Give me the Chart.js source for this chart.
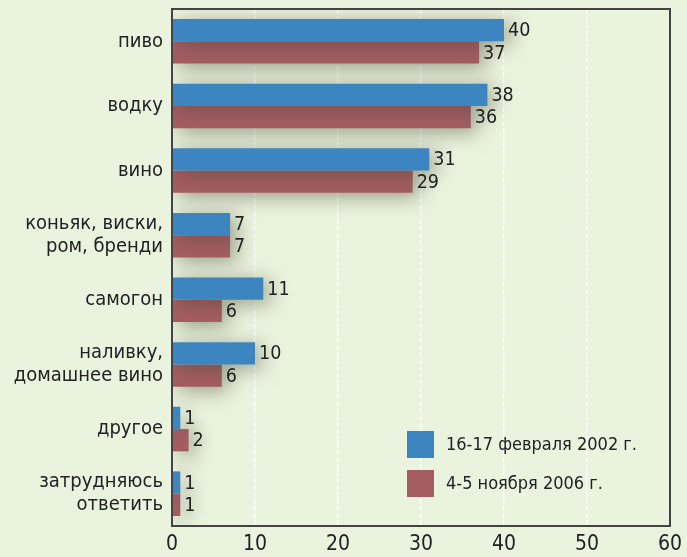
<!DOCTYPE html>
<html><head><meta charset="utf-8">
<script src="https://cdn.jsdelivr.net/npm/chart.js@4/dist/chart.umd.min.js"></script>
<style>html,body{margin:0;padding:0;background:#eaf3de;}#wrap{width:687px;height:557px;}</style>
</head><body><div id="wrap"><canvas id="c" width="687" height="557"></canvas></div>
<script>
const categories = [["пиво"],["водку"],["вино"],["коньяк, виски,","ром, бренди"],["самогон"],["наливку,","домашнее вино"],["другое"],["затрудняюсь","ответить"]];
const series2002 = [40,38,31,7,11,10,1,1];
const series2006 = [37,36,29,7,6,6,2,1];
const seriesNames = ["16-17 февраля 2002 г.","4-5 ноября 2006 г."];
const xTicks = [0,10,20,30,40,50,60];

const FONT = "'DejaVu Sans Condensed','Liberation Sans Narrow','Liberation Sans',sans-serif";
const BLUE = "#3d85c0", RED = "#a55d63", TXT = "#222222";

const shadowPlugin = {
  id:'shadow',
  beforeDatasetsDraw(chart){const c=chart.ctx;c.save();c.shadowColor='rgba(70,70,50,0.5)';c.shadowBlur=20;c.shadowOffsetX=6;c.shadowOffsetY=4;},
  afterDatasetsDraw(chart){
    const c=chart.ctx;c.restore();
    c.save();
    c.font = "19.5px "+FONT; c.fillStyle=TXT; c.textBaseline='middle'; c.textAlign='left';
    chart.data.datasets.forEach((ds,i)=>{
      const meta=chart.getDatasetMeta(i);
      meta.data.forEach((bar,j)=>{ c.fillText(String(ds.data[j]), bar.x+4, bar.y+1); });
    });
    c.restore();
  }
};
const framePlugin = {
  id:'frame',
  afterDraw(chart){
    const a=chart.chartArea,c=chart.ctx;
    c.save();c.strokeStyle='#444';c.lineWidth=2;
    c.strokeRect(a.left,a.top,a.right-a.left,a.bottom-a.top);
    const items=[[BLUE,seriesNames[0],431],[RED,seriesNames[1],470]];
    c.font="18px "+FONT;c.textBaseline='middle';c.textAlign='left';
    items.forEach(([col,txt,y])=>{c.fillStyle=col;c.fillRect(407,y,27,27);c.fillStyle=TXT;c.fillText(txt,446,y+14);});
    c.restore();
  }
};

new Chart(document.getElementById('c'),{
  type:'bar',
  data:{labels:categories,datasets:[
    {label:seriesNames[0],data:series2002,backgroundColor:BLUE,barPercentage:1,categoryPercentage:0.69},
    {label:seriesNames[1],data:series2006,backgroundColor:RED,barPercentage:1,categoryPercentage:0.69}
  ]},
  options:{
    indexAxis:'y',responsive:false,animation:false,
    layout:{padding:{top:9,right:17,left:0,bottom:0}},
    plugins:{legend:{display:false},tooltip:{enabled:false}},
    scales:{
      x:{min:0,max:60,
        afterBuildTicks(s){s.ticks=xTicks.map(v=>({value:v}));},
        afterFit(s){s.height=31;s.paddingLeft=0;s.paddingRight=0;},
        border:{display:true,color:'#444',width:2,dash:[5,2]},
        grid:{drawTicks:false,color:ctx=>(ctx.tick&&ctx.tick.value>0&&ctx.tick.value<60)?'#ffffff':'rgba(0,0,0,0)',lineWidth:1.3},
        ticks:{color:TXT,font:{family:FONT,size:21},padding:6,maxRotation:0,autoSkip:false}
      },
      y:{
        afterFit(s){s.width=172;s.paddingTop=0;s.paddingBottom=0;},
        border:{display:true,color:'#444',width:2},
        grid:{display:false,drawTicks:false},
        ticks:{color:TXT,font:{family:FONT,size:20,lineHeight:1.15},padding:9}
      }
    }
  },
  plugins:[shadowPlugin,framePlugin]
});
</script></body></html>
